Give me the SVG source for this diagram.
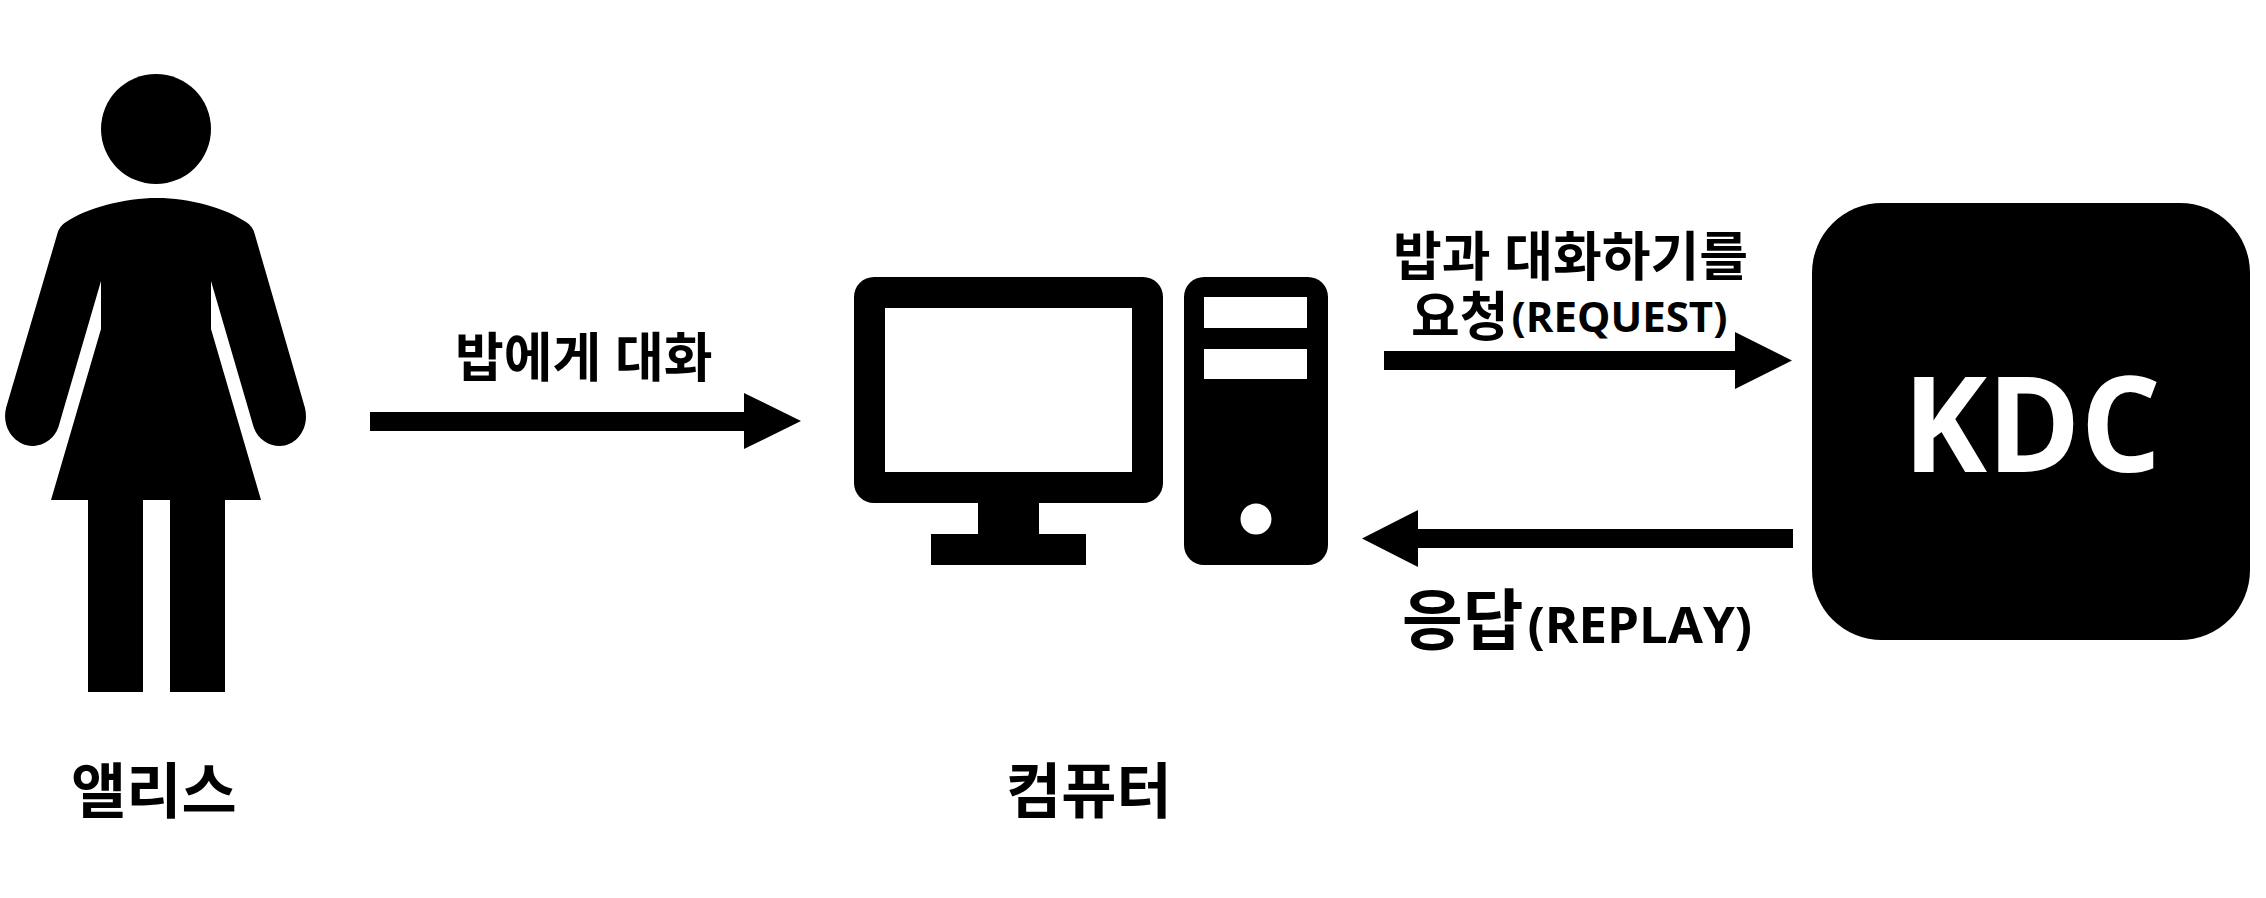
<svg xmlns="http://www.w3.org/2000/svg" width="2266" height="898" viewBox="0 0 2266 898">
<style>
.lb{font-family:"Open Sans","Noto Sans CJK KR","Noto Sans",sans-serif;font-weight:700;fill:#000}
.s53{font-size:53px}
.s60{font-size:60px}
.s42{font-size:42px}
.s66{font-size:66px}
.s51{font-size:51px}
.k{font-family:"Open Sans","Noto Sans",sans-serif;font-weight:700;font-size:133px;fill:#fff}
</style>
<rect width="2266" height="898" fill="#fff"/>
<g id="alice">
<circle cx="156" cy="129" r="55"/>
<path d="M157,198 C190,198 225,208 246,222 Q253,226 255,235 L305,408 C310,430 295,446 280,446 C267,446 256,437 253,425 L211,281 L211,329 L261,500 L225,500 L225,692 L170,692 L170,500 L143,500 L143,692 L88,692 L88,500 L51,500 L101,329 L101,281 L59,425 C56,437 45,446 32,446 C17,446 1,430 6,408 L57,235 Q59,226 66,222 C87,208 124,198 157,198 Z"/>
<text class="lb s60" x="71" y="813">앨리스</text>
</g>
<g id="computer">
<path fill-rule="evenodd" d="M874,277 H1143 A20,20 0 0 1 1163,297 V483 A20,20 0 0 1 1143,503 H1039 V534 H1086 V565 H931 V534 H978 V503 H874 A20,20 0 0 1 854,483 V297 A20,20 0 0 1 874,277 Z M885,308 V472 H1132 V308 Z"/>
<path fill-rule="evenodd" d="M1204,277 H1308 A20,20 0 0 1 1328,297 V545 A20,20 0 0 1 1308,565 H1204 A20,20 0 0 1 1184,545 V297 A20,20 0 0 1 1204,277 Z M1204,297 V328 H1307 V297 Z M1204,349 V379 H1307 V349 Z"/>
<circle cx="1256" cy="519" r="15.500" fill="#fff"/>
<text class="lb s60" x="1006" y="813">컴퓨터</text>
</g>
<g id="kdc">
<rect x="1812" y="203" width="438" height="437" rx="70" ry="70"/>
<text class="k" x="1903" y="472" textLength="258" lengthAdjust="spacingAndGlyphs">KDC</text>
</g>
<g id="connectors">
<polygon points="370,412 744,412 744,393 801,421 744,449 744,431 370,431"/>
<polygon points="1384,351 1735,351 1735,332 1792,360.500 1735,389 1735,370 1384,370"/>
<polygon points="1793,529 1418,529 1418,510 1362,538.500 1418,567 1418,548 1793,548"/>
</g>
<g id="labels">
<text class="lb s53" x="455" y="377">밥에게 대화</text>
<text class="lb s53" x="1393" y="276">밥과 대화하기를</text>
<text class="lb s53" x="1411" y="336">요청<tspan class="s42" dx="3" y="332">(REQUEST)</tspan></text>
<text class="lb s66" x="1402" y="644">응답<tspan class="s51" dx="4" y="643">(REPLAY)</tspan></text>
</g>
</svg>
